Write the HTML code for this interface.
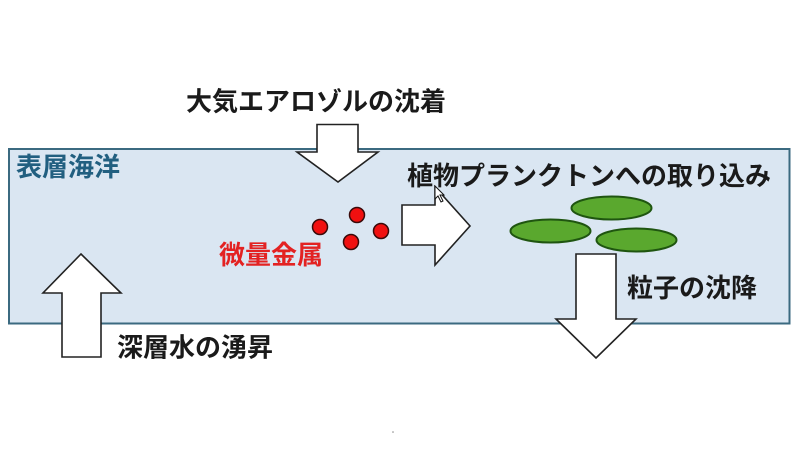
<!DOCTYPE html>
<html><head><meta charset="utf-8"><style>
html,body{margin:0;padding:0;background:#fff;}
svg{display:block;}
text{font-family:"Liberation Sans","Noto Sans CJK JP",sans-serif;font-size:26px;font-weight:bold;}
</style></head><body>
<svg width="800" height="450" viewBox="0 0 800 450" xmlns="http://www.w3.org/2000/svg">
<rect x="0" y="0" width="800" height="450" fill="#ffffff"/>
<rect x="9" y="149" width="780.5" height="174.5" fill="#dae6f2" stroke="#3b6a80" stroke-width="2"/>
<!-- aerosol arrow down -->
<polygon points="317,124.5 358,124.5 358,152 378,152 338,182 297,152 317,152" fill="#fff" stroke="#222" stroke-width="1.6" stroke-linejoin="miter"/>
<!-- upwelling arrow up -->
<polygon points="81,254 121,293 101,293 101,357 62,357 62,293 43,293" fill="#fff" stroke="#222" stroke-width="1.6"/>
<!-- right arrow -->
<polygon points="402,205 435,205 435,187 470,226 435,265 435,245 402,245" fill="#fff" stroke="#222" stroke-width="1.6"/>
<!-- mouse cursor -->
<polygon points="435,186 435,199 438,196 441,202 443,201 440,195 444,195" fill="#fff" stroke="#111" stroke-width="1"/>
<!-- red circles -->
<g fill="#f01010" stroke="#3a0a0a" stroke-width="1.5">
<circle cx="320" cy="227" r="7.5"/>
<circle cx="357" cy="215" r="7.5"/>
<circle cx="351" cy="242" r="7.5"/>
<circle cx="381" cy="231" r="7.5"/>
</g>
<!-- green ellipses -->
<g fill="#5aa82e" stroke="#1f5510" stroke-width="2">
<ellipse cx="611.5" cy="208" rx="40" ry="11.5"/>
<ellipse cx="550.5" cy="231" rx="40" ry="11.5"/>
<ellipse cx="636.5" cy="240" rx="40" ry="11.5"/>
</g>
<!-- sinking arrow down -->
<polygon points="576,254 616,254 616,319 636,319 596,358 556,319 576,319" fill="#fff" stroke="#222" stroke-width="1.6"/>
<!-- labels -->
<text x="186" y="110.5" fill="#1a1a1a">大気エアロゾルの沈着</text>
<text x="16" y="176" fill="#215f80">表層海洋</text>
<text x="219" y="264" fill="#e32222">微量金属</text>
<text x="117" y="356.5" fill="#1a1a1a">深層水の湧昇</text>
<text x="407" y="185" fill="#1a1a1a">植物プランクトンへの取り込み</text>
<text x="627" y="297" fill="#1a1a1a">粒子の沈降</text>
<circle cx="393" cy="432" r="0.8" fill="#888"/>
</svg>
</body></html>
